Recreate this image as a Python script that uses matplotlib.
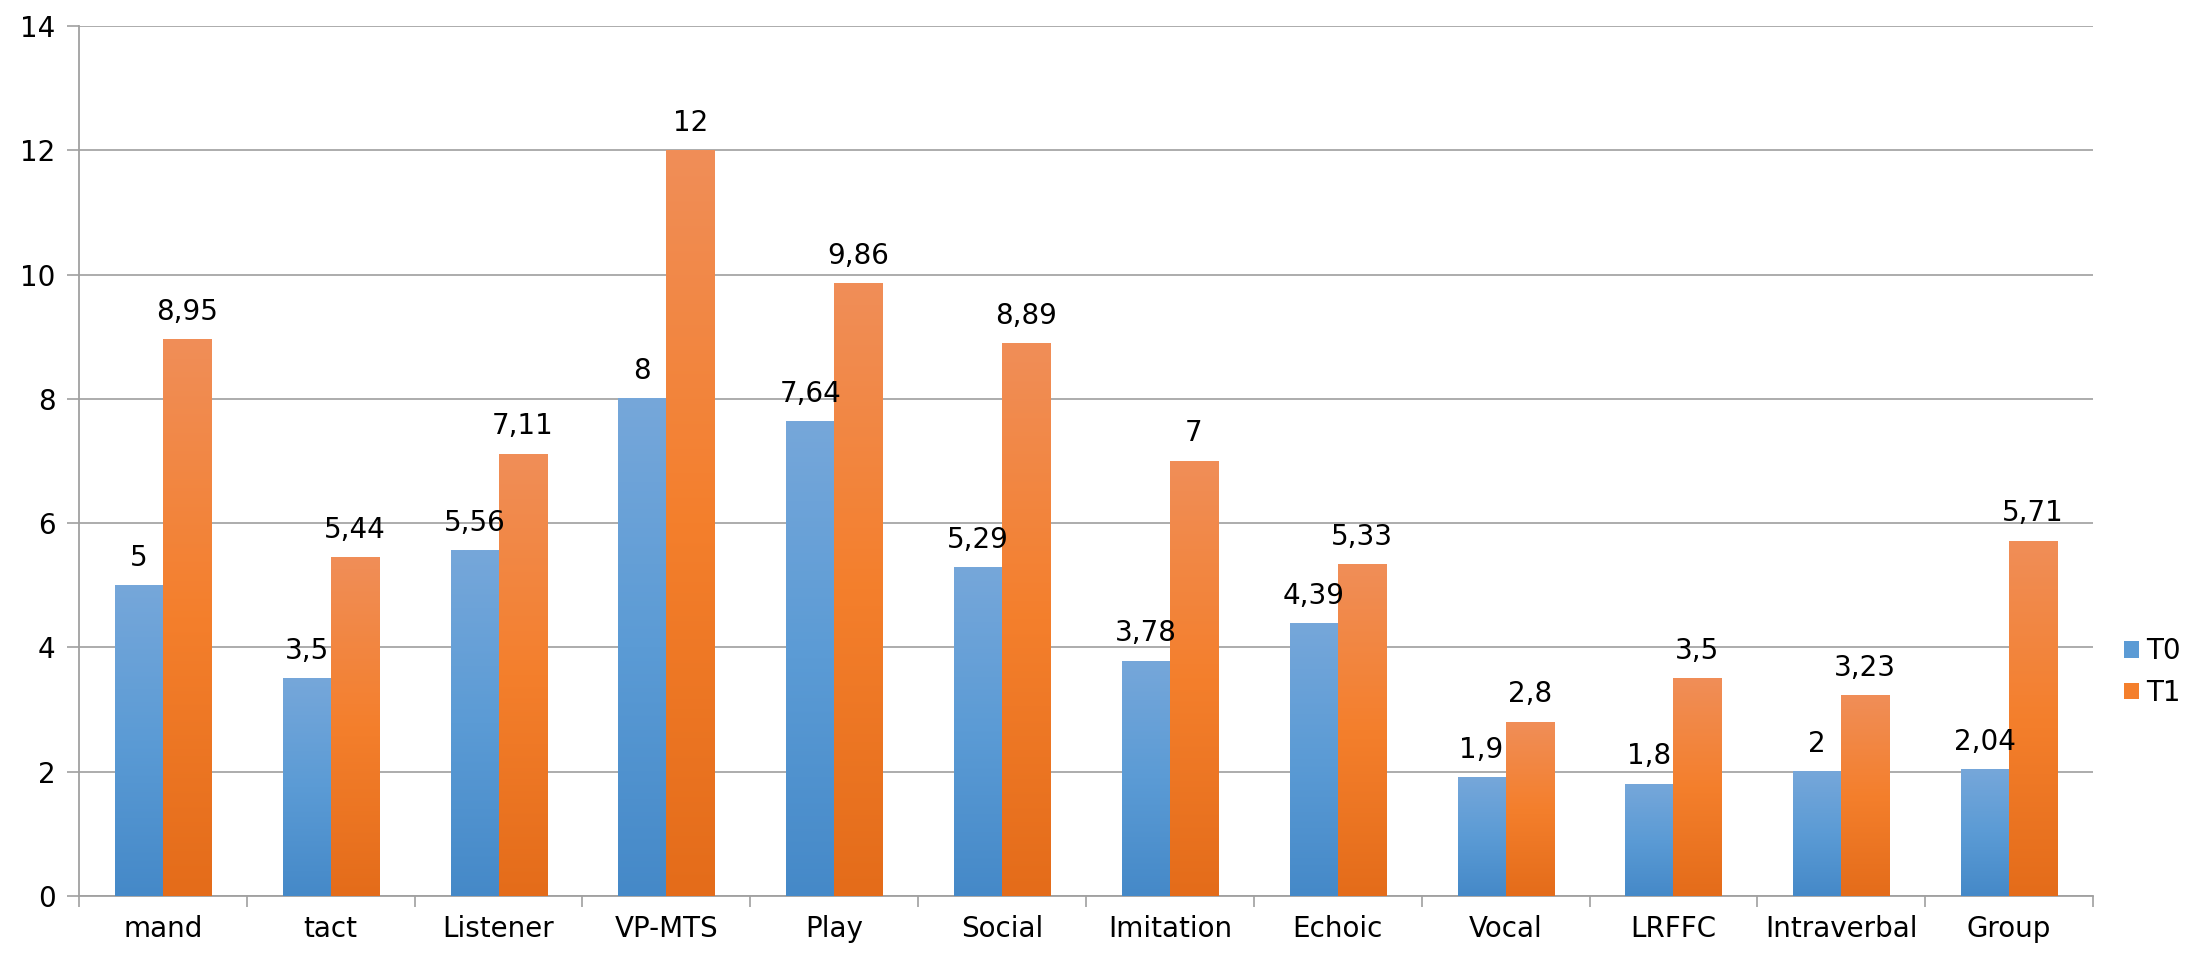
import numpy as np
import matplotlib.pyplot as plt
from matplotlib.colors import LinearSegmentedColormap
from matplotlib.patches import Patch

categories = ['mand', 'tact', 'Listener', 'VP-MTS', 'Play', 'Social', 'Imitation',
              'Echoic', 'Vocal', 'LRFFC', 'Intraverbal', 'Group']
t0 = [5, 3.5, 5.56, 8, 7.64, 5.29, 3.78, 4.39, 1.9, 1.8, 2, 2.04]
t1 = [8.95, 5.44, 7.11, 12, 9.86, 8.89, 7, 5.33, 2.8, 3.5, 3.23, 5.71]
series_names = ['T0', 'T1']

blue_cmap = LinearSegmentedColormap.from_list('b', ['#4589C8', '#5B9BD5', '#76A7DA'])
orange_cmap = LinearSegmentedColormap.from_list('o', ['#E46C1A', '#F47F2C', '#F08E58'])

plt.rcParams['font.family'] = 'DejaVu Sans'
fs = 20

fig = plt.figure(figsize=(22.02, 9.58), dpi=100)
ax = fig.add_axes([79/2202, 1 - 896/958, (2093-79)/2202, (896-26)/958])

x = np.arange(len(categories))
w = 0.286
grad = np.linspace(0, 1, 256).reshape(-1, 1)

for vals, off, cmap in [(t0, -w/2, blue_cmap), (t1, w/2, orange_cmap)]:
    bars = ax.bar(x + off, vals, w, color='none', edgecolor='none', zorder=3)
    for b, v in zip(bars, vals):
        x0 = b.get_x()
        ax.imshow(grad, cmap=cmap, origin='lower', aspect='auto',
                  extent=[x0, x0 + b.get_width(), 0, v], zorder=3)
        lab = ('%g' % v).replace('.', ',')
        ax.text(x0 + b.get_width()/2, v + 0.22, lab, ha='center', va='bottom',
                fontsize=fs, zorder=4)

ax.set_xlim(-0.5, len(categories) - 0.5)
ax.set_ylim(0, 14)
ax.set_yticks(np.arange(0, 15, 2))
ax.set_xticks(x)
ax.set_xticklabels(categories)
ax.set_xticks(np.arange(-0.5, len(categories)), minor=True)
ax.tick_params(axis='x', which='major', length=0, labelsize=fs, pad=14)
ax.tick_params(axis='x', which='minor', length=8, color='#A0A0A0', width=1.2)
ax.tick_params(axis='y', length=9, color='#A0A0A0', width=1.2, labelsize=fs, pad=8)
ax.grid(axis='y', color='#A6A6A6', linewidth=1.3, zorder=0)
for s in ['top', 'right']:
    ax.spines[s].set_visible(False)
for s in ['left', 'bottom']:
    ax.spines[s].set_color('#A0A0A0')
    ax.spines[s].set_linewidth(1.3)

handles = [Patch(facecolor='#5B9BD5'), Patch(facecolor='#F47F2C')]
fig.legend(handles, series_names, loc='center left', bbox_to_anchor=(2124/2202, 1 - 672/958),
           frameon=False, fontsize=fs, handlelength=0.55, handleheight=0.55,
           handletextpad=0.25, labelspacing=0.5, borderpad=0, borderaxespad=0)

fig.savefig('out.png', dpi=100)
